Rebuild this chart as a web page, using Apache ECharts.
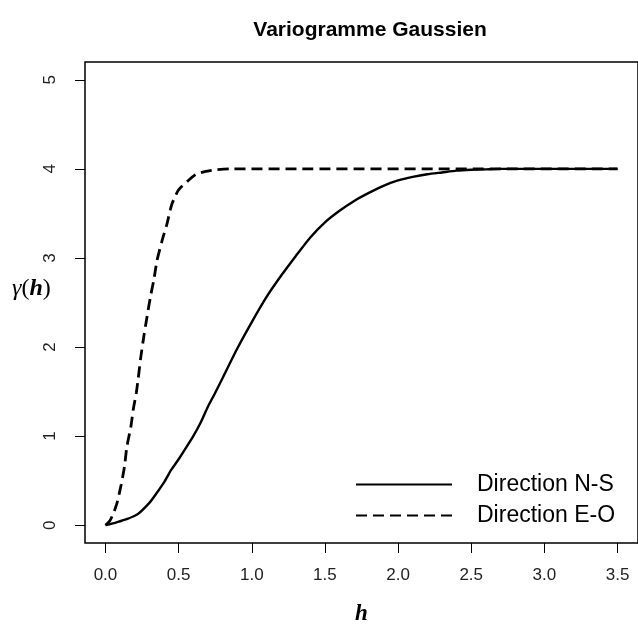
<!DOCTYPE html>
<html>
<head>
<meta charset="utf-8">
<script src="https://cdn.jsdelivr.net/npm/echarts@6/dist/echarts.min.js"></script>
<style>html,body{margin:0;padding:0;background:#fff}#c{width:638px;height:631px}</style>
</head>
<body>
<div id="c"></div>
<script>
// ---- data ----
var titleText = 'Variogramme Gaussien';
var seriesNames = ['Direction N-S', 'Direction E-O'];
var xTicks = [0, 0.5, 1, 1.5, 2, 2.5, 3, 3.5];
var yTicks = [0, 1, 2, 3, 4, 5];
var hNS = [0, 0.05, 0.09, 0.15, 0.225, 0.3, 0.337, 0.4, 0.449, 0.5, 0.539, 0.6, 0.65, 0.7, 0.745, 0.8, 0.9, 1.0, 1.1, 1.2, 1.3, 1.4, 1.5, 1.6, 1.7, 1.8, 1.9, 2.0, 2.1, 2.2, 2.3, 2.4, 2.5, 2.6, 2.7, 3.5];
var gNS = [0, 0.02, 0.04, 0.07, 0.13, 0.25, 0.33, 0.48, 0.62, 0.74, 0.84, 1.0, 1.15, 1.33, 1.47, 1.65, 1.98, 2.28, 2.56, 2.80, 3.02, 3.23, 3.40, 3.53, 3.64, 3.73, 3.81, 3.87, 3.91, 3.94, 3.96, 3.98, 3.99, 3.995, 4.0, 4.0];
var hEO = [0, 0.03, 0.056, 0.079, 0.108, 0.13, 0.146, 0.173, 0.19, 0.211, 0.224, 0.24, 0.263, 0.285, 0.308, 0.33, 0.352, 0.386, 0.42, 0.453, 0.498, 0.566, 0.62, 0.678, 0.75, 0.85, 3.5];
var gEO = [0, 0.05, 0.14, 0.25, 0.46, 0.66, 0.88, 1.10, 1.30, 1.49, 1.65, 1.87, 2.13, 2.35, 2.57, 2.75, 2.97, 3.19, 3.38, 3.60, 3.76, 3.87, 3.94, 3.97, 3.99, 4.0, 4.0];

function pairs(xs, ys) { return xs.map(function (x, i) { return [x, ys[i]]; }); }

var chart = echarts.init(document.getElementById('c'), null, { renderer: 'canvas' });
chart.setOption({
  animation: false,
  backgroundColor: '#fff',
  title: {
    text: titleText, left: 365, top: 15, textAlign: 'center',
    textStyle: { fontFamily: 'Liberation Sans, Arial, sans-serif', fontWeight: 'bold', fontSize: 21, color: '#000' }
  },
  grid: { left: 85, top: 62, right: -9, bottom: 79, show: true, borderColor: '#000', borderWidth: 1.5, backgroundColor: 'transparent' },
  legend: {
    orient: 'vertical', left: 350, top: 468, itemWidth: 96, itemHeight: 14, itemGap: 8,
    data: seriesNames,
    itemStyle: { opacity: 0 },
    textStyle: { fontFamily: 'Liberation Sans, Arial, sans-serif', fontSize: 23, color: '#000', padding: [0, 0, 0, 20] }
  },
  xAxis: {
    type: 'value', min: -0.14, max: 3.64,
    name: 'h', nameLocation: 'middle', nameGap: 60,
    nameTextStyle: { fontFamily: 'Liberation Serif, Times New Roman, serif', fontWeight: 'bold', fontStyle: 'italic', fontSize: 23, color: '#000' },
    axisLine: { show: false, onZero: false },
    axisTick: { show: true, inside: false, length: 10, customValues: xTicks, lineStyle: { color: '#000', width: 1 } },
    axisLabel: { customValues: xTicks, margin: 24, fontFamily: 'Liberation Sans, Arial, sans-serif', fontSize: 17, color: '#222',
      formatter: function (v) { return v.toFixed(1); } },
    splitLine: { show: false }
  },
  yAxis: {
    type: 'value', min: -0.2, max: 5.2,
    axisLine: { show: false, onZero: false },
    axisTick: { show: true, inside: false, length: 10, customValues: yTicks, lineStyle: { color: '#000', width: 1 } },
    axisLabel: { customValues: yTicks, margin: 26, rotate: 90, fontFamily: 'Liberation Sans, Arial, sans-serif', fontSize: 17, color: '#222' },
    splitLine: { show: false }
  },
  graphic: [{
    type: 'text', left: 12, top: 277,
    style: {
      text: '{g|γ}{p|(}{h|h}{p|)}',
      rich: {
        g: { fontFamily: 'Liberation Serif, serif', fontStyle: 'italic', fontSize: 24, fill: '#000' },
        p: { fontFamily: 'Liberation Serif, serif', fontSize: 24, fill: '#000' },
        h: { fontFamily: 'Liberation Serif, serif', fontStyle: 'italic', fontWeight: 'bold', fontSize: 24, fill: '#000' }
      }
    }
  }],
  series: [
    { name: seriesNames[0], type: 'line', data: pairs(hNS, gNS), showSymbol: false, symbol: 'none', smooth: 0.2,
      lineStyle: { color: '#000', width: 2.4, type: 'solid' }, itemStyle: { color: '#000' } },
    { name: seriesNames[1], type: 'line', data: pairs(hEO, gEO), showSymbol: false, symbol: 'none', smooth: 0.2,
      lineStyle: { color: '#000', width: 2.8, type: [11, 6] }, itemStyle: { color: '#000' } }
  ]
});
</script>
</body>
</html>
